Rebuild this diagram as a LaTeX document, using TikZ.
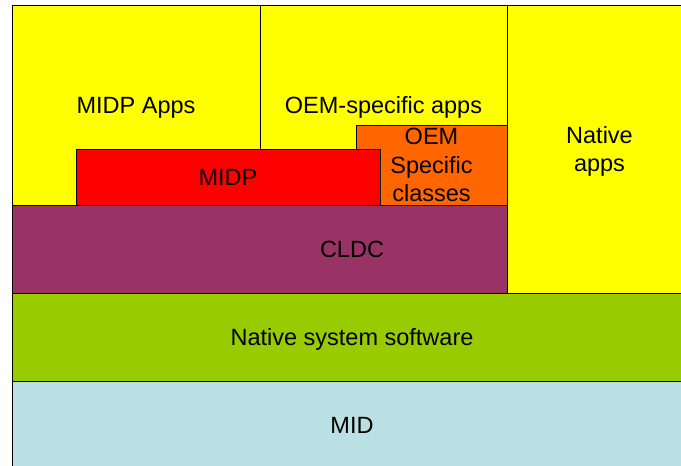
\documentclass[tikz,border=0pt]{standalone}
\usepackage{fontspec}
\setmainfont{Liberation Sans}
\definecolor{appyellow}{HTML}{FFFF00}
\definecolor{midpred}{HTML}{FF0000}
\definecolor{oemorange}{HTML}{FF6600}
\definecolor{cldcpurple}{HTML}{993366}
\definecolor{nativegreen}{HTML}{99CC00}
\definecolor{midblue}{HTML}{BBE0E3}

\begin{document}
\begin{tikzpicture}[x=1pt,y=-1pt,font=\fontsize{23.5}{28.5}\selectfont,every node/.style={draw,line width=0.8pt,inner sep=0pt,outer sep=0pt,text depth=0pt},every text node part/.style={align=center}]
	\useasboundingbox (0,0) rectangle (681,466);
	\clip (0,0) rectangle (681,466);

	\node (midpapps) at (136,105) [fill=appyellow,minimum width=248,minimum height=200] {MIDP Apps};
	\node (oemapps) at (383.5,105) [fill=appyellow,minimum width=247,minimum height=200] {OEM-specific apps};
	\node (cldc) at (352,249) [fill=cldcpurple,minimum width=680,minimum height=88] {CLDC};
	\node (nativeapps) at (599.5,149) [fill=appyellow,minimum width=185,minimum height=288] {Native\\apps};
	\node (oemclasses) at (431.5,165) [fill=oemorange,minimum width=151,minimum height=80] {OEM\\Specific\\classes};
	\node (midp) at (228,177) [fill=midpred,minimum width=304,minimum height=56] {MIDP};
	\node (nativesw) at (352,337) [fill=nativegreen,minimum width=680,minimum height=88] {Native system software};
	\node (mid) at (352,425.5) [fill=midblue,minimum width=680,minimum height=89] {MID};
\end{tikzpicture}
\end{document}
